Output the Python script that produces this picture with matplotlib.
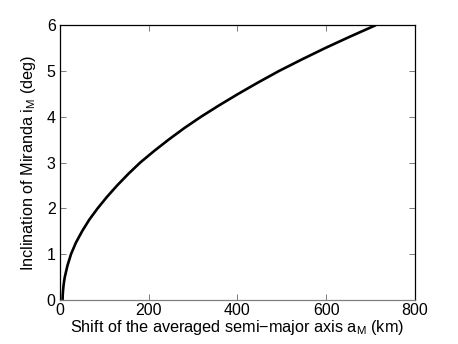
import matplotlib
matplotlib.use("Agg")
import matplotlib.pyplot as plt

plt.rcParams['font.family'] = ['Liberation Sans', 'DejaVu Sans']
plt.rcParams['mathtext.default'] = 'regular'

# data
shift_km = [6, 6.3, 7, 8, 9.3, 11, 17, 25, 36, 50, 66, 85, 106, 129, 154, 181,
            212, 245, 280, 318, 359, 402, 447, 494, 545, 598, 654, 712]
incl_deg = [0, 0.1, 0.2, 0.3, 0.4, 0.5, 0.75, 1, 1.25, 1.5, 1.75, 2, 2.25, 2.5,
            2.75, 3, 3.25, 3.5, 3.75, 4, 4.25, 4.5, 4.75, 5, 5.25, 5.5, 5.75, 6]
xticks = [0, 200, 400, 600, 800]
yticks = [0, 1, 2, 3, 4, 5, 6]

fig = plt.figure(figsize=(4.58, 3.44), dpi=100)
ax = fig.add_axes([0.1308, 0.128, 0.906 - 0.1308, 0.927 - 0.128])
ax.plot(shift_km, incl_deg, color='black', lw=1.9, solid_capstyle='butt',
        solid_joinstyle='round')
ax.set_xlim(0, 800)
ax.set_ylim(0, 6)
ax.set_xticks(xticks)
ax.set_yticks(yticks)
ax.tick_params(direction='in', length=4, width=0.6, color='#666666',
               top=True, right=True, labelsize=11.5, pad=3)
ax.tick_params(axis='x', pad=2)
for s in ax.spines.values():
    s.set_linewidth(0.9)
    s.set_color('black')
ax.spines['bottom'].set_color('#808080')
ax.set_xlabel('Shift of the averaged semi\u2212major axis a$_M$ (km)', fontsize=11.7, labelpad=0.5)
ax.set_ylabel('Inclination of Miranda i$_M$ (deg)', fontsize=11.7, labelpad=6)
fig.savefig('out.png', dpi=100)
